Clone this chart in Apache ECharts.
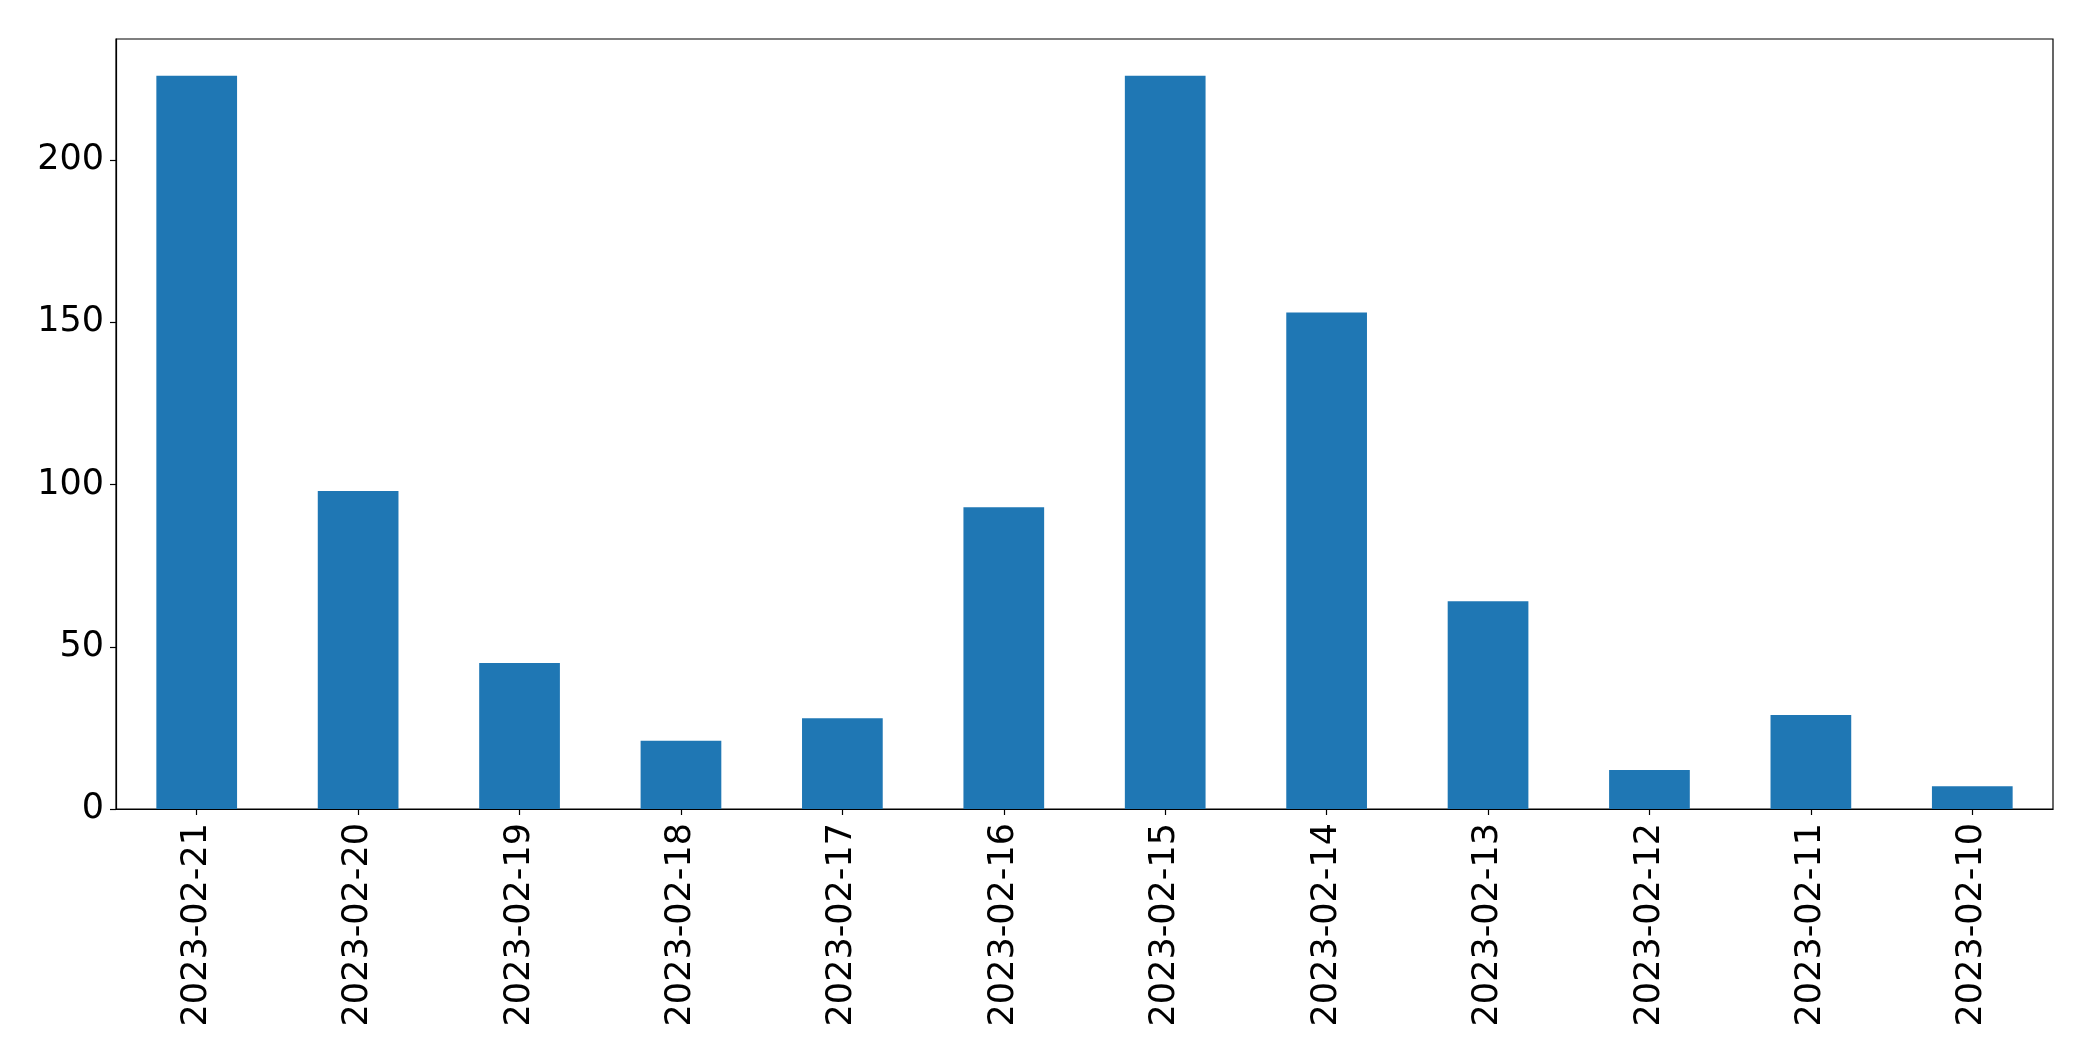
<!DOCTYPE html>
<html>
<head>
<meta charset="utf-8">
<script src="https://cdn.jsdelivr.net/npm/echarts@6/dist/echarts.min.js"></script>
<style>
html, body { margin: 0; padding: 0; background: #fff; }
#chart { width: 2093px; height: 1061px; }
</style>
</head>
<body>
<div id="chart"></div>
<script>
const categories = ['2023-02-21','2023-02-20','2023-02-19','2023-02-18','2023-02-17','2023-02-16','2023-02-15','2023-02-14','2023-02-13','2023-02-12','2023-02-11','2023-02-10'];
const counts = [226, 98, 45, 21, 28, 93, 226, 153, 64, 12, 29, 7];
const yTicks = [0, 50, 100, 150, 200];

const yMax = Math.max.apply(null, counts) * 1.05;

const chart = echarts.init(document.getElementById('chart'), null, { renderer: 'canvas' });
chart.setOption({
  animation: false,
  backgroundColor: '#ffffff',
  grid: {
    left: 116, right: 40, top: 39, bottom: 252,
    show: true, borderColor: '#000', borderWidth: 1.2, backgroundColor: 'transparent',
    containLabel: false
  },
  xAxis: {
    type: 'category',
    data: categories,
    boundaryGap: true,
    axisLine: { show: true, lineStyle: { color: '#000', width: 1.2 } },
    axisTick: { show: true, alignWithLabel: true, length: 6, lineStyle: { color: '#000', width: 1.2 } },
    axisLabel: {
      rotate: 90, margin: 14, color: '#000', fontSize: 35,
      fontFamily: 'DejaVu Sans', interval: 0
    },
    splitLine: { show: false }
  },
  yAxis: {
    type: 'value',
    min: 0, max: yMax,
    axisLine: { show: true, lineStyle: { color: '#000', width: 1.2 } },
    axisTick: { show: true, length: 6, lineStyle: { color: '#000', width: 1.2 }, customValues: yTicks },
    axisLabel: { color: '#000', fontSize: 35, fontFamily: 'DejaVu Sans', margin: 12, padding: [5, 0, 0, 0], customValues: yTicks },
    splitLine: { show: false }
  },
  series: [{
    type: 'bar',
    data: counts,
    barWidth: '50%',
    itemStyle: { color: '#1f77b4' }
  }]
});
</script>
</body>
</html>
